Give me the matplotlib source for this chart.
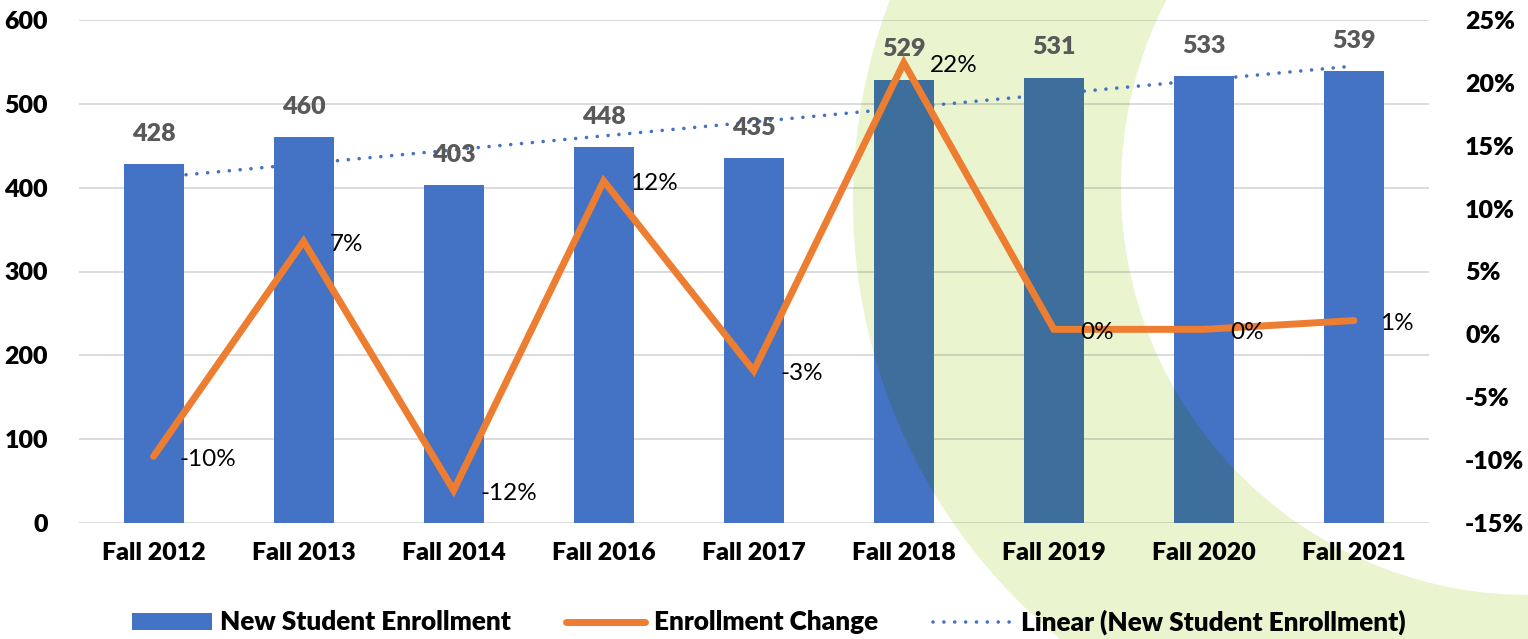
import numpy as np
import matplotlib
matplotlib.use('Agg')
import matplotlib.pyplot as plt
from matplotlib.path import Path
from matplotlib.patches import PathPatch, Patch
from matplotlib.lines import Line2D
from matplotlib.ticker import FuncFormatter

plt.rcParams['font.family'] = ['Lato', 'DejaVu Sans']

# data
categories = ['Fall 2012', 'Fall 2013', 'Fall 2014', 'Fall 2016', 'Fall 2017',
              'Fall 2018', 'Fall 2019', 'Fall 2020', 'Fall 2021']
enrollment = [428, 460, 403, 448, 435, 529, 531, 533, 539]
change_pct = [-9.7, 7.4, -12.4, 12.2, -2.9, 21.6, 0.4, 0.4, 1.1]

BLUE = '#4472C4'
BLUE_DARK = '#3E6E9C'
ORANGE = '#ED7D31'
GREEN = '#EAF4CE'
GRID = '#D9D9D9'
BOLD = 'heavy'
FS = 18

W, H = 1528, 639
fig = plt.figure(figsize=(W / 100, H / 100), dpi=100)
ax = fig.add_axes([78.5 / W, 1 - 523 / H, (1429 - 78.5) / W, (523 - 20) / H])
ax.set_facecolor('none')

# decorative green crescent behind the plot (pixel coords, y down)
def ring(cx, cy, r, n=400, rev=False):
    t = np.linspace(0, 2 * np.pi, n)
    if rev:
        t = t[::-1]
    return np.c_[cx + r * np.cos(t), cy + r * np.sin(t)]

outer = ring(1420, 201, 567)
inner = ring(1529, 187, 408, rev=True)
verts = np.vstack([outer, inner])
verts = np.c_[verts[:, 0] / W, 1 - verts[:, 1] / H]
codes = ([Path.MOVETO] + [Path.LINETO] * (len(outer) - 2) + [Path.CLOSEPOLY]) * 2
crescent = PathPatch(Path(verts, codes), transform=fig.transFigure,
                     facecolor=GREEN, edgecolor='none', zorder=-5)
fig.add_artist(crescent)
clip = PathPatch(Path(verts, codes), transform=fig.transFigure,
                 facecolor='none', edgecolor='none')

x = np.arange(len(categories))

# gridlines
ax.set_ylim(0, 600)
ax.set_yticks(range(0, 601, 100))
for v in range(0, 601, 100):
    ax.axhline(v, color=GRID, lw=1.3, zorder=0)
    g = ax.axhline(v, color='#C9D2B4', lw=1.3, zorder=0.1)
    g.set_clip_path(clip)

# trend line
k, b = np.polyfit(x, enrollment, 1)
ax.plot([x[0], x[-1]], [k * x[0] + b, k * x[-1] + b], color=BLUE, lw=2.6,
        ls=(0, (0.01, 3.0)), dash_capstyle='round', zorder=1.5)

bars = ax.bar(x, enrollment, width=0.4, color=BLUE, zorder=2)
bars_dark = ax.bar(x, enrollment, width=0.4, color=BLUE_DARK, zorder=2.1)
for r in bars_dark:
    r.set_clip_path(clip)

for xi, v in zip(x, enrollment):
    ax.annotate(str(v), (xi, v), xytext=(0, 22), textcoords='offset points',
                ha='center', va='center', fontsize=FS, fontweight=BOLD,
                color='#595959', zorder=5)

ax.set_xlim(-0.5, len(categories) - 0.5)
ax.set_xticks(x)
ax.set_xticklabels(categories, fontsize=FS, fontweight=BOLD)
ax.tick_params(axis='x', length=0, pad=14)
ax.tick_params(axis='y', length=0, pad=22, labelsize=FS)
for t in ax.get_yticklabels():
    t.set_fontweight(BOLD)
for s in ax.spines.values():
    s.set_visible(False)

ax2 = ax.twinx()
ax2.set_ylim(-15, 25)
ax2.set_yticks(range(-15, 26, 5))
ax2.yaxis.set_major_formatter(FuncFormatter(lambda v, p: f'{v:.0f}%'))
ax2.tick_params(axis='y', length=0, pad=26, labelsize=FS)
for t in ax2.get_yticklabels():
    t.set_fontweight(BOLD)
for s in ax2.spines.values():
    s.set_visible(False)

ax2.plot(x, change_pct, color=ORANGE, lw=5, solid_capstyle='round',
         solid_joinstyle='miter', zorder=3)
for xi, v in zip(x, change_pct):
    ax2.annotate(f'{v:.0f}%', (xi, v), xytext=(19, -2), textcoords='offset points',
                 ha='left', va='center', fontsize=17.5, color='black', zorder=6)

# legend
handles = [Patch(facecolor=BLUE),
           Line2D([], [], color=ORANGE, lw=5, solid_capstyle='round'),
           Line2D([], [], color=BLUE, lw=2.6, ls=(0, (0.01, 3.0)), dash_capstyle='round')]
labels = ['New Student Enrollment', 'Enrollment Change',
          'Linear (New Student Enrollment)']
fig.legend(handles, labels, loc='center', bbox_to_anchor=(0.503, 1 - 622 / H), ncol=3,
           frameon=False, prop={'size': 18.8, 'weight': BOLD}, handlelength=3.05,
           handletextpad=0.32, columnspacing=2.1, handleheight=0.62)

fig.savefig('out.png', dpi=100)
